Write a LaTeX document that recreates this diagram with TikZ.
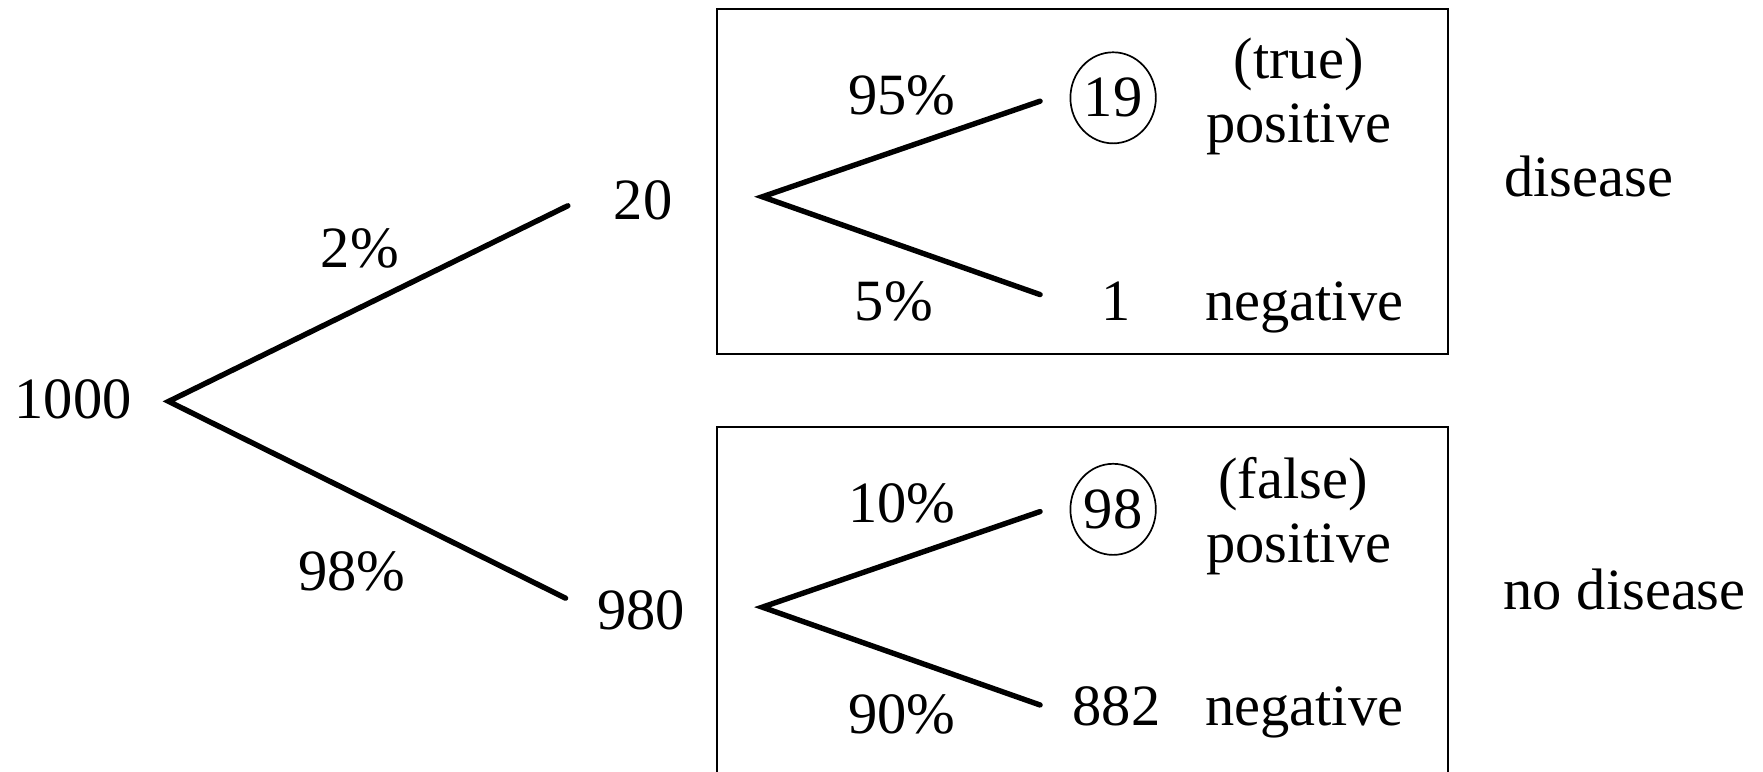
\documentclass[tikz,border=0pt]{standalone}
\usepackage{fontspec}
\setmainfont{Liberation Serif}
\usetikzlibrary{shapes.geometric}
\begin{document}
\begin{tikzpicture}[x=1pt,y=-1pt,
  lbl/.style={anchor=base,inner sep=0pt,font=\fontsize{52}{60}\selectfont},
  circ/.style={draw,ellipse,line width=1.5pt,minimum width=76pt,minimum height=81pt,inner sep=0pt,font=\fontsize{52}{60}\selectfont},
  branch/.style={line width=4.8pt,line cap=round,line join=miter},
  frame/.style={draw,line width=2pt}]
\useasboundingbox (0,0) rectangle (1568,686);
\clip (0,0) rectangle (1568,686);
\fill[white] (0,0) rectangle (1568,686);
% boxes
\draw[frame] (638,8) rectangle (1288,315);
\draw[frame] (638,380) rectangle (1288,720);
% main tree
\node[lbl] (n1000) at (65,372) {1000};
\node[lbl] (n20) at (572,195) {20};
\node[lbl] (n980) at (570,560) {980};
\node[lbl] (p2) at (320,238) {2\%};
\node[lbl] (p98) at (313,525) {98\%};
\coordinate (r) at (150,357);
\coordinate (ra) at (505,183);
\coordinate (rb) at (503,532);
\draw[branch] (ra) -- (r) -- (rb);
% top subtree
\coordinate (t) at (678,175);
\coordinate (ta) at (925,90);
\coordinate (tb) at (925,262);
\draw[branch] (ta) -- (t) -- (tb);
\node[lbl] (p95) at (802,102) {95\%};
\node[lbl] (p5) at (795,285) {5\%};
\node[circ] (n19) at (990,87) {19};
\node[lbl] (tt) at (1155,70) {(true)};
\node[lbl] (tp) at (1155,127) {positive};
\node[lbl] (n1) at (993,285) {1};
\node[lbl] (tn) at (1160,285) {negative};
\node[lbl] (dis) at (1413,175) {disease};
% bottom subtree
\coordinate (b) at (678,540);
\coordinate (ba) at (925,455);
\coordinate (bb) at (925,627);
\draw[branch] (ba) -- (b) -- (bb);
\node[lbl] (p10) at (802,465) {10\%};
\node[lbl] (p90) at (802,652) {90\%};
\node[circ] (n98) at (990,453) {98};
\node[lbl] (bf) at (1150,443) {(false)};
\node[lbl] (bp) at (1155,500) {positive};
\node[lbl] (n882) at (993,645) {882};
\node[lbl] (bn) at (1160,645) {negative};
\node[lbl] (ndis) at (1445,542) {no disease};
\end{tikzpicture}
\end{document}
